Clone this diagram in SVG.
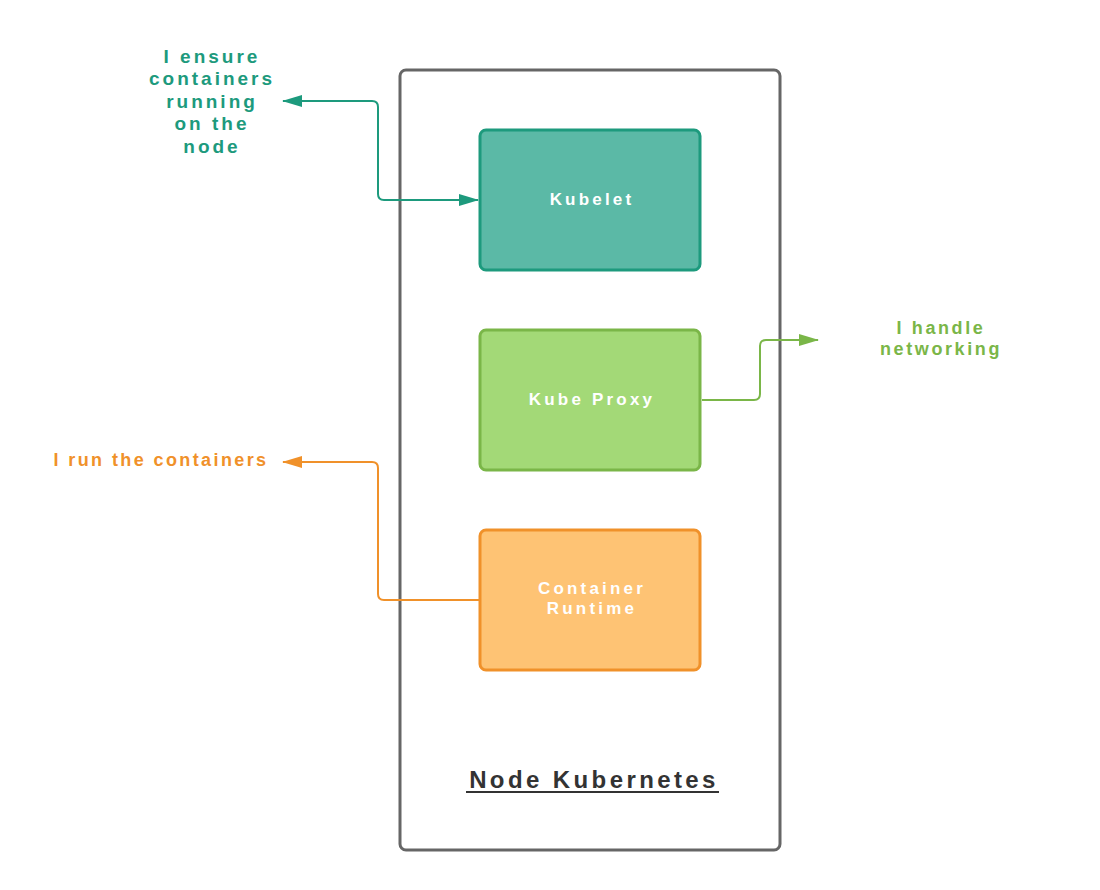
<svg xmlns="http://www.w3.org/2000/svg" width="1100" height="890" viewBox="0 0 1100 890">
<defs>
<style>
text{font-family:"Liberation Sans",Arial,sans-serif;font-weight:bold;text-anchor:middle}
.lbl{fill:#fff;font-size:17px;letter-spacing:3.2px}
.n1{fill:#1d9a7d;font-size:19px;letter-spacing:3px}
.n2{fill:#7ab648;font-size:18px;letter-spacing:2.6px}
.n3{fill:#f0912a;font-size:18px;letter-spacing:2.4px}
.box{stroke-width:3}
.c{fill:none;stroke-width:2}
</style>
<marker id="mt2" viewBox="0 0 20 12" refX="19" refY="6" markerWidth="20" markerHeight="12" markerUnits="userSpaceOnUse" orient="auto-start-reverse"><path d="M0,0 L20,6 L0,12 z" fill="#1d9a7d"/></marker>
<marker id="mg" viewBox="0 0 20 12" refX="19" refY="6" markerWidth="20" markerHeight="12" markerUnits="userSpaceOnUse" orient="auto"><path d="M0,0 L20,6 L0,12 z" fill="#7ab648"/></marker>
<marker id="mo" viewBox="0 0 20 12" refX="19" refY="6" markerWidth="20" markerHeight="12" markerUnits="userSpaceOnUse" orient="auto"><path d="M0,0 L20,6 L0,12 z" fill="#f0912a"/></marker>
</defs>
<rect width="1100" height="890" fill="#fff"/>
<g id="node-kubernetes">
<rect x="400" y="70" width="380" height="780" rx="6" fill="none" stroke="#666" stroke-width="3"/>
<text x="594" y="788" font-size="24" fill="#333" style="letter-spacing:3.4px">Node Kubernetes</text>
<line x1="466" y1="792" x2="719" y2="792" stroke="#333" stroke-width="2"/>
</g>
<g id="connectors">
<path class="c" stroke="#1d9a7d" d="M283,101 H372 Q378,101 378,107 V194 Q378,200 384,200 H478" marker-start="url(#mt2)" marker-end="url(#mt2)"/>
<path class="c" stroke="#7ab648" d="M702,400 H754 Q760,400 760,394 V346 Q760,340 766,340 H818" marker-end="url(#mg)"/>
<path class="c" stroke="#f0912a" d="M480,600 H384 Q378,600 378,594 V468 Q378,462 372,462 H283" marker-end="url(#mo)"/>
</g>
<g id="kubelet">
<rect class="box" x="480" y="130" width="220" height="140" rx="6" fill="#5bb9a6" stroke="#1d9a7d"/>
<text class="lbl" x="592" y="205">Kubelet</text>
</g>
<g id="kube-proxy">
<rect class="box" x="480" y="330" width="220" height="140" rx="6" fill="#a3d977" stroke="#7ab648"/>
<text class="lbl" x="592" y="405">Kube Proxy</text>
</g>
<g id="container-runtime">
<rect class="box" x="480" y="530" width="220" height="140" rx="6" fill="#fec374" stroke="#f0912a"/>
<text class="lbl" x="592" y="594">Container</text>
<text class="lbl" x="592" y="614">Runtime</text>
</g>
<g id="note-kubelet">
<text class="n1" x="212" y="63">I ensure</text>
<text class="n1" x="212" y="85">containers</text>
<text class="n1" x="212" y="108">running</text>
<text class="n1" x="212" y="130">on the</text>
<text class="n1" x="212" y="153">node</text>
</g>
<g id="note-proxy">
<text class="n2" x="941" y="334">I handle</text>
<text class="n2" x="941" y="355">networking</text>
</g>
<g id="note-runtime">
<text class="n3" x="161" y="466">I run the containers</text>
</g>
</svg>
